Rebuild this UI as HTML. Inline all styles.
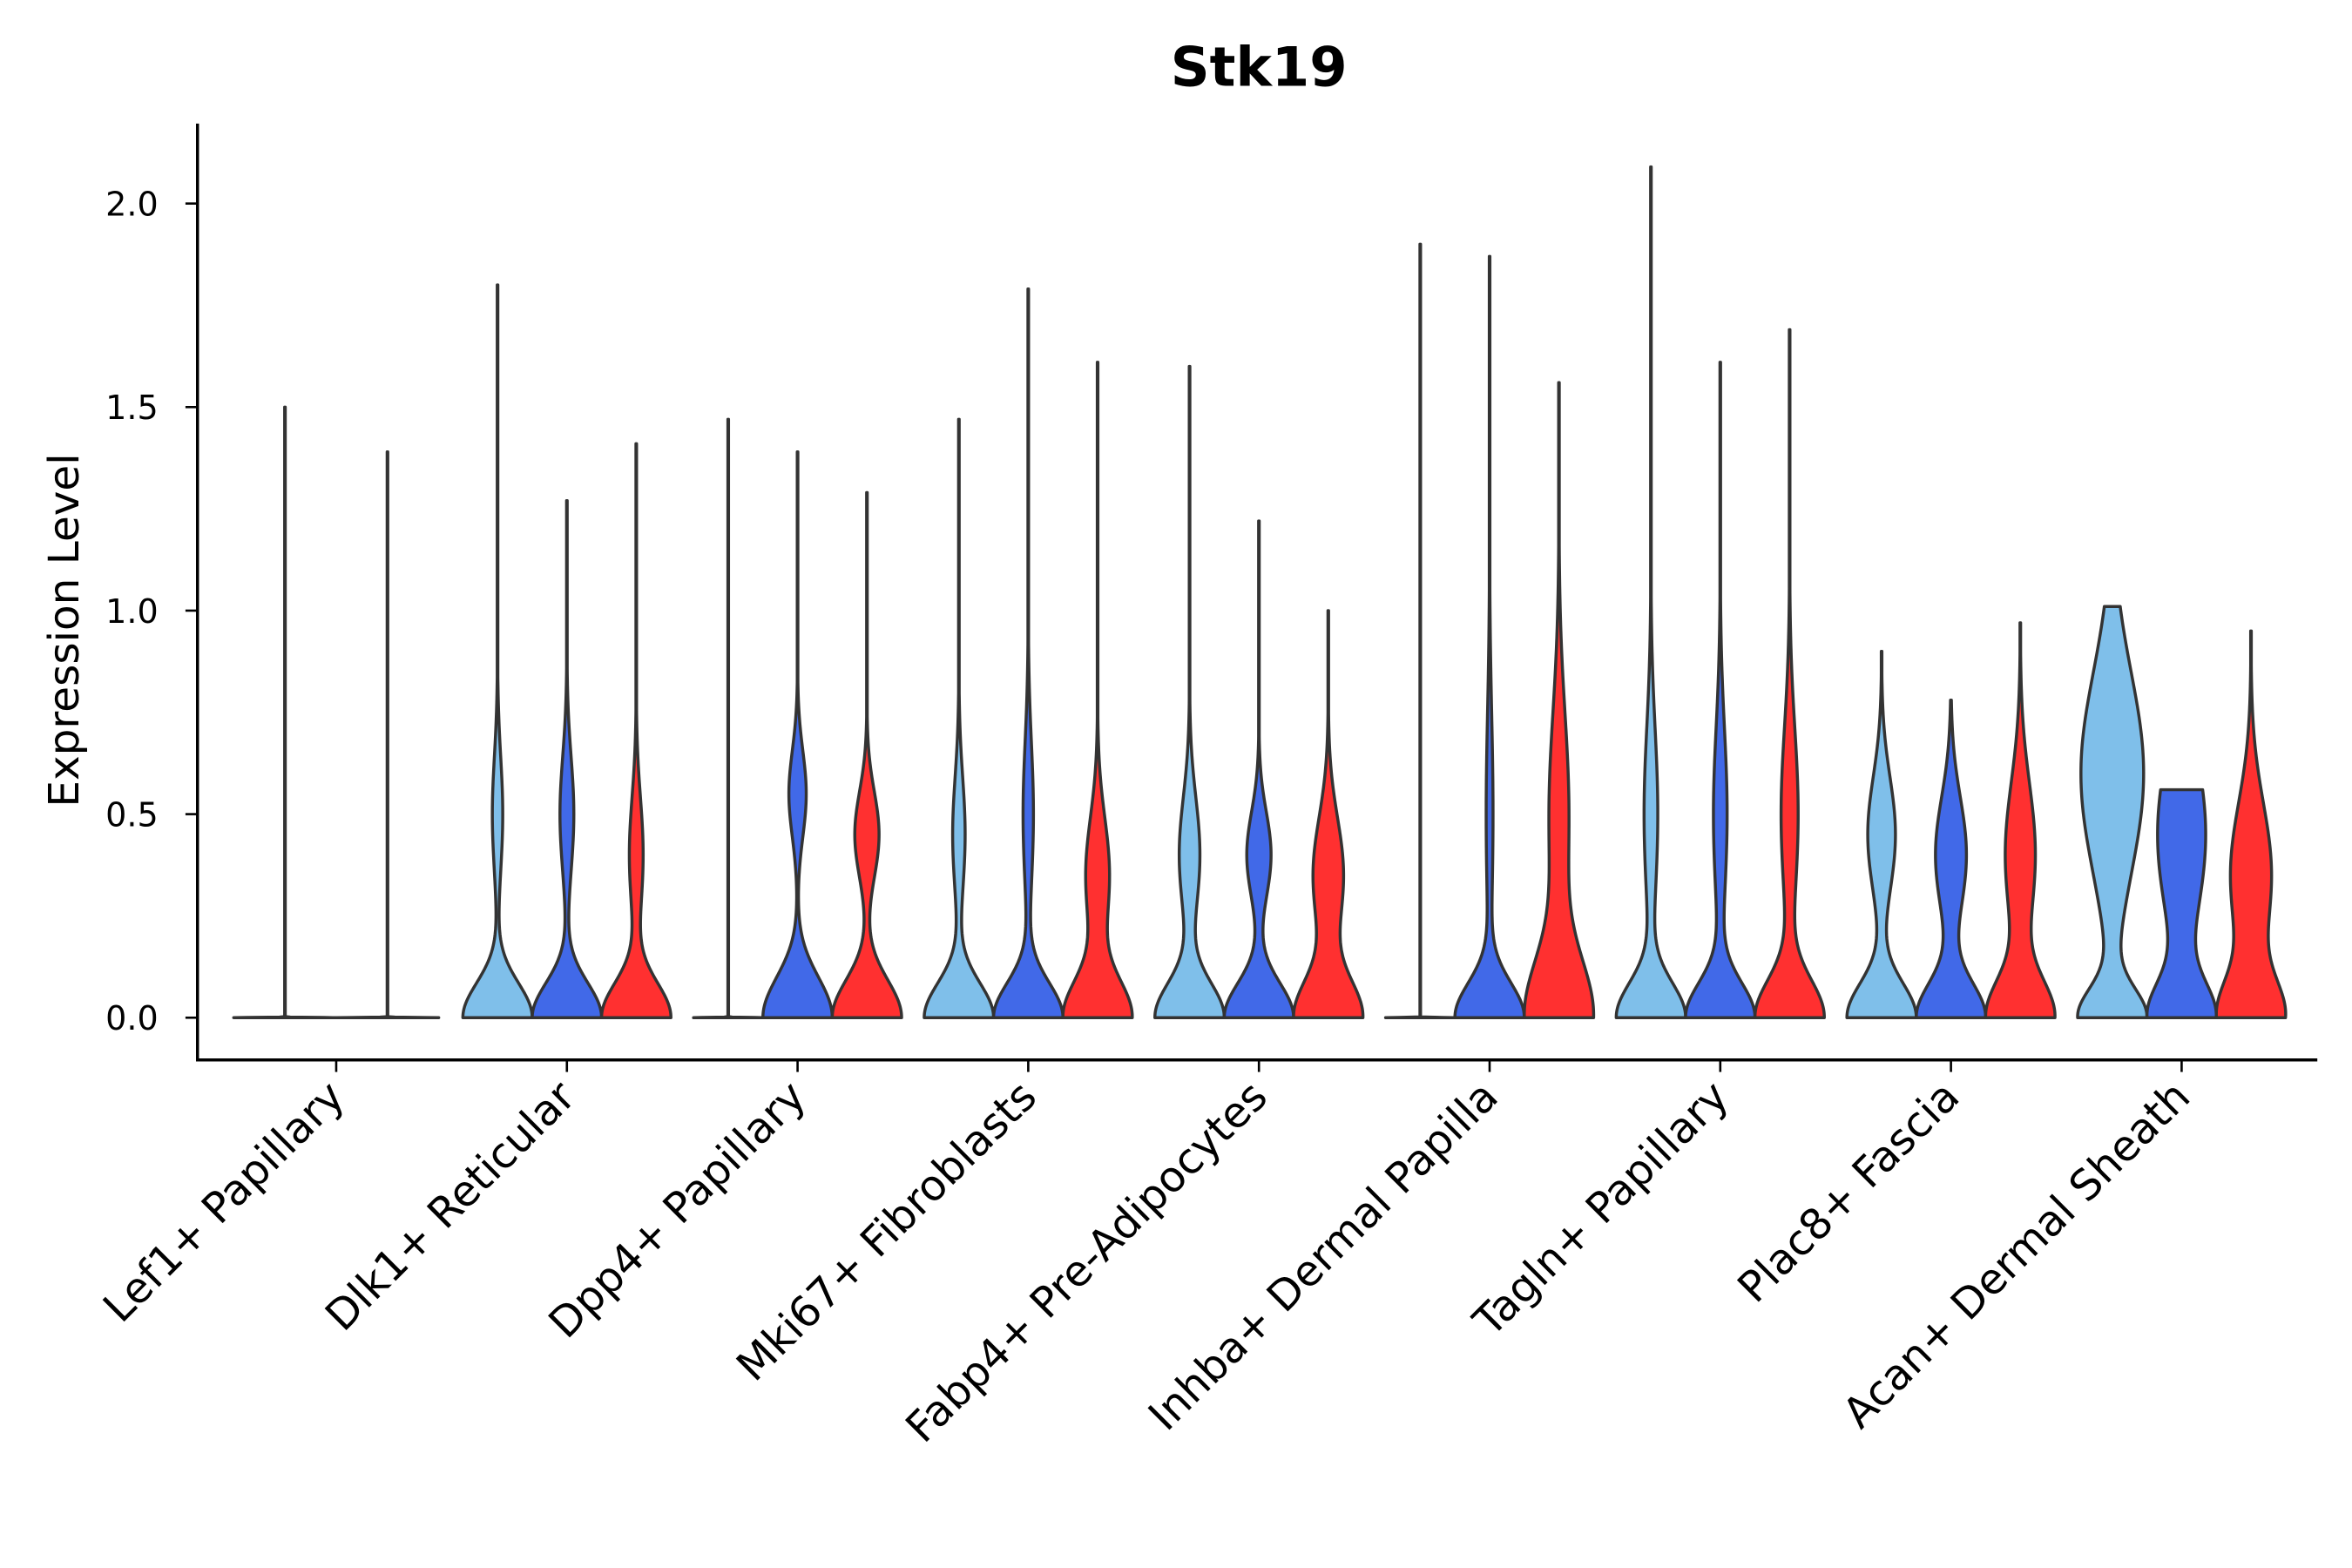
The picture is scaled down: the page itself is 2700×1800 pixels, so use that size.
<!DOCTYPE html>
<html><head><meta charset="utf-8"><style>
html,body{margin:0;padding:0;background:#fff;}
svg{display:block;font-family:"DejaVu Sans","Liberation Sans",sans-serif;}
</style></head><body>
<svg id="chart" width="2700" height="1800" viewBox="0 0 1560 1040" xmlns="http://www.w3.org/2000/svg">
<text x="835" y="57" text-anchor="middle" font-size="36" font-weight="bold">Stk19</text>
<text transform="translate(52,418) rotate(-90)" text-anchor="middle" font-size="28">Expression Level</text>
<g id="plot"></g>
</svg>
<script>
const categories = ["Lef1+ Papillary","Dlk1+ Reticular","Dpp4+ Papillary","Mki67+ Fibroblasts","Fabp4+ Pre-Adipocytes","Inhba+ Dermal Papilla","Tagln+ Papillary","Plac8+ Fascia","Acan+ Dermal Sheath"];
const yTicks = [0.0,0.5,1.0,1.5,2.0];
const yTickLabels = ["0.0","0.5","1.0","1.5","2.0"];
const violinGroup = [0,0, 1,1,1, 2,2,2, 3,3,3, 4,4,4, 5,5,5, 6,6,6, 7,7,7, 8,8,8];
const violinSeries = [0,1, 0,1,2, 0,1,2, 0,1,2, 0,1,2, 0,1,2, 0,1,2, 0,1,2, 0,1,2];
const violinMax = [1.50,1.39, 1.80,1.27,1.41, 1.47,1.39,1.29, 1.47,1.79,1.61, 1.60,1.22,1.00, 1.90,1.87,1.56, 2.09,1.61,1.69, 0.90,0.78,0.97, 1.01,0.56,0.95];
const baseSpread = [0.001,0.001, 0.12,0.12,0.12, 0.001,0.14,0.13, 0.12,0.12,0.13, 0.12,0.12,0.13, 0.001,0.12,0.2, 0.12,0.12,0.13, 0.12,0.12,0.13, 0.1,0.12,0.13];
const bumpCenter = [0,0, 0.5,0.5,0.4, 0,0.55,0.45, 0.45,0.5,0.35, 0.4,0.4,0.35, 0,0.5,0.5, 0.5,0.5,0.5, 0.45,0.4,0.4, 0.6,0.45,0.35];
const bumpHeight = [0,0, 0.15,0.2,0.2, 0,0.25,0.35, 0.18,0.15,0.35, 0.3,0.35,0.45, 0,0.1,0.3, 0.2,0.2,0.25, 0.4,0.45,0.45, 0.95,0.75,0.65];
const bumpSpread = [0.1,0.1, 0.2,0.2,0.2, 0.1,0.15,0.15, 0.2,0.25,0.2, 0.2,0.15,0.2, 0.1,0.35,0.35, 0.3,0.3,0.3, 0.2,0.2,0.25, 0.35,0.3,0.25];
const colors = ["#7fbfea","#4169e8","#ff3030"];

const NS="http://www.w3.org/2000/svg";
const plot=document.getElementById('plot');
const axL=131, axR=1537, axB=703, axT=82;
const y=v=>675-v*270;
const xC=i=>223+i*153;
function mk(t,a){const e=document.createElementNS(NS,t);for(const k in a)e.setAttribute(k,a[k]);plot.appendChild(e);return e;}

const ya=mk('line',{x1:axL,y1:axT,x2:axL,y2:axB,stroke:'#000','stroke-width':2});


const xa=mk('line',{x1:axL-1,y1:axB,x2:axR,y2:axB,stroke:'#000','stroke-width':2});


yTicks.forEach((v,i)=>{
  const t=mk('line',{x1:axL-8,y1:y(v),x2:axL,y2:y(v),stroke:'#000','stroke-width':1.5});
  
  
  const l=mk('text',{x:axL-26,y:y(v)+8,'text-anchor':'end','font-size':22});
  l.textContent=yTickLabels[i];
  
  
});
categories.forEach((c,i)=>{
  const t=mk('line',{x1:xC(i),y1:axB,x2:xC(i),y2:axB+8,stroke:'#000','stroke-width':1.5});
  
  
  const l=mk('text',{transform:`translate(${xC(i)+7},${axB+26}) rotate(-45)`,'text-anchor':'end','font-size':28});
  l.textContent=c;
  
  
});
violinMax.forEach((mx,k)=>{
  const g=violinGroup[k], s=violinSeries[k];
  const n = g===0?2:3;
  const off = n===2 ? (s-0.5)*68 : (s-1)*46;
  const halfW = n===2 ? 34 : 23;
  const cx=xC(g)+off;
  const N=200, vs=[], ws=[];
  let wmax=0;
  for(let j=0;j<=N;j++){
    const v=mx*Math.pow(j/N,1.5);
    const w=Math.exp(-Math.pow(v/baseSpread[k],2))+bumpHeight[k]*Math.exp(-Math.pow((v-bumpCenter[k])/bumpSpread[k],2));
    vs.push(v); ws.push(w); if(w>wmax)wmax=w;
  }
  const right=[],left=[];
  ws.forEach((w,j)=>{const hw=Math.max(w/wmax*halfW,0.2);right.push([cx+hw,y(vs[j])]);left.push([cx-hw,y(vs[j])]);});
  const all=right.concat(left.reverse());
  const d='M'+all.map(p=>p[0].toFixed(2)+','+p[1].toFixed(2)).join('L')+'Z';
  const p=mk('path',{d:d,fill:colors[s],stroke:'#333','stroke-width':2,'stroke-linejoin':'round'});
  
  
});
</script>
</body></html>
